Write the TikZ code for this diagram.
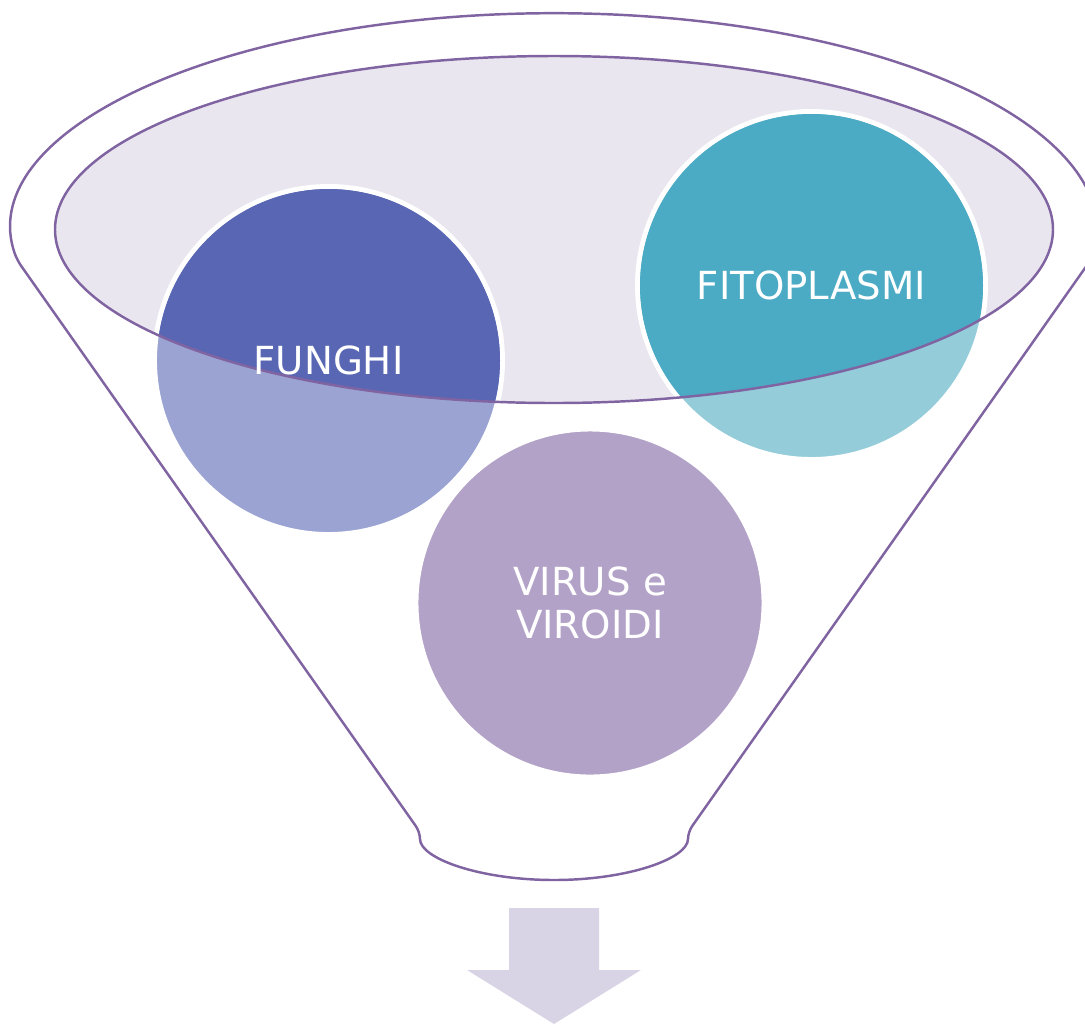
\documentclass[tikz,border=0pt]{standalone}
\usepackage{fontspec}
\setmainfont{DejaVu Sans}
\usetikzlibrary{calc}
\definecolor{funnelline}{HTML}{8064A2}
\definecolor{mouthfill}{HTML}{EAE6EF}
\definecolor{funghidark}{HTML}{5866B3}
\definecolor{funghilight}{HTML}{9AA3D2}
\definecolor{fitodark}{HTML}{4BABC5}
\definecolor{fitolight}{HTML}{94CCDA}
\definecolor{virusfill}{HTML}{B3A2C7}
\definecolor{arrowfill}{HTML}{D9D4E5}
\def\mouth{(5.54,-2.295) ellipse [x radius=4.99, y radius=1.735]}

\begin{document}
\begin{tikzpicture}[
	bubble/.style={circle, minimum size=3.48cm, inner sep=0pt, draw=white, line width=1.4pt},
	caption/.style={text=white, align=center, inner sep=0pt, font=\fontsize{11}{12}\selectfont},
	funnel/.style={draw=funnelline, line width=0.7pt}
]
			%%%%% START %%%%%
			\useasboundingbox (0,0) rectangle (10.85,-10.24);
			
			% funnel body
			\draw[funnel, rounded corners=2pt] (0.17,-2.60) arc[start angle=187.9, end angle=-7.9, x radius=5.42, y radius=2.17]
				-- (6.88,-8.32) arc[start angle=0, end angle=-180, x radius=1.34, y radius=0.48] -- cycle;
			\fill[mouthfill] \mouth;
			
			% the three balls
			\node[bubble, fill=funghilight] (funghi) at (3.285,-3.605) {};
			\node[bubble, fill=fitolight] (fito) at (8.115,-2.855) {};
			\node[bubble, fill=virusfill] (virus) at (5.90,-6.03) {};
			
			% darker where they sit inside the mouth
			\begin{scope}
				\clip \mouth;
				\fill[funghidark] (funghi.center) circle (1.715);
				\fill[fitodark] (fito.center) circle (1.715);
			\end{scope}
			\draw[funnel] \mouth;
			
			\node[caption] (funghi-text) at (funghi.center) {FUNGHI};
			\node[caption] (fito-text) at (fito.center) {FITOPLASMI};
			\node[caption] (virus-text) at (virus.center) {VIRUS e\\VIROIDI};
			
			% outlet arrow
			\fill[arrowfill] (5.09,-9.08) -- (5.99,-9.08) -- (5.99,-9.70) -- (6.41,-9.70)
				-- (5.54,-10.24) -- (4.67,-9.70) -- (5.09,-9.70) -- cycle;
			%%%%% END %%%%%
\end{tikzpicture}
\end{document}
